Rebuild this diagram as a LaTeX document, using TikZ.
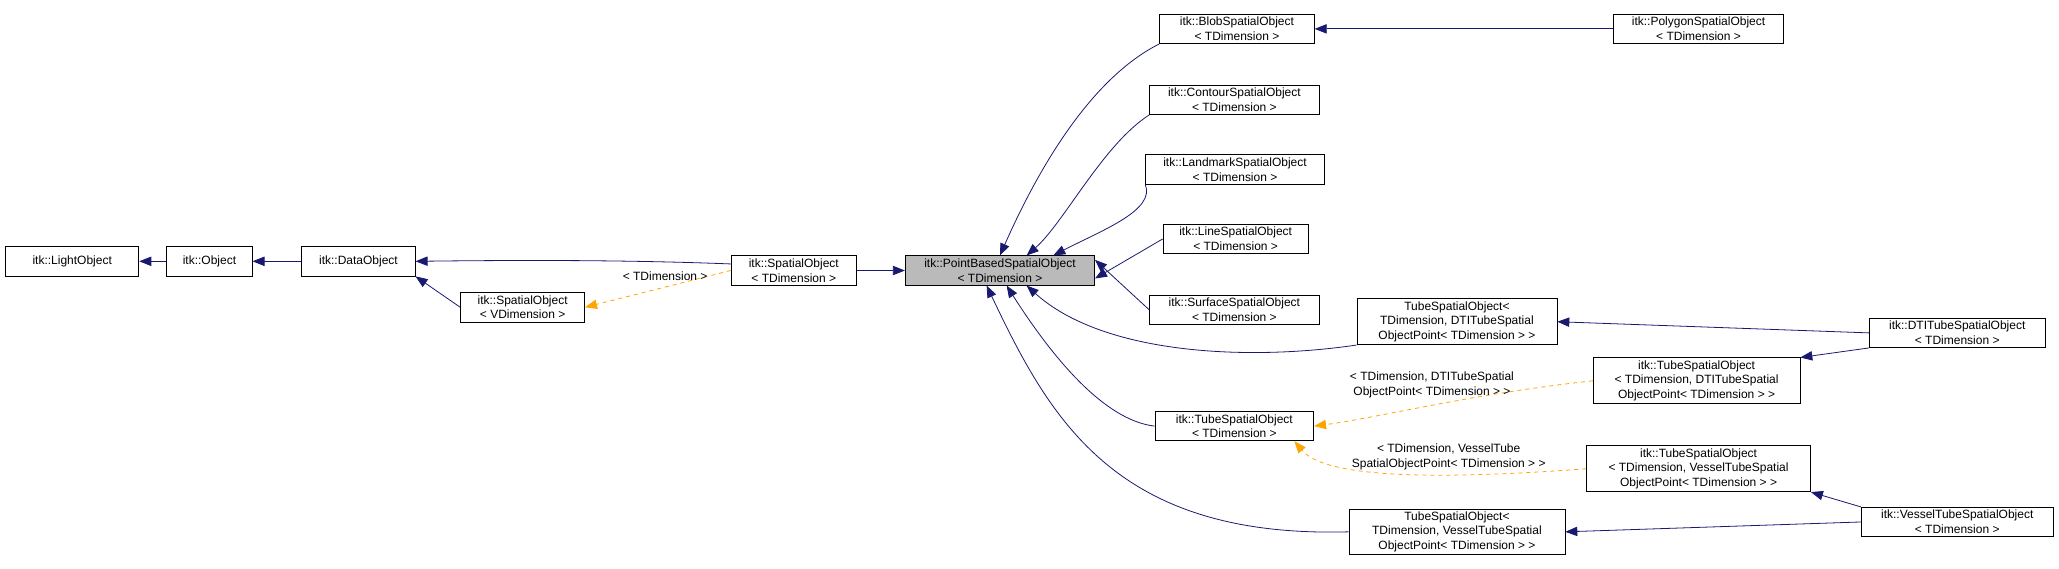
\documentclass[tikz,border=0pt]{standalone}
\usepackage{fontspec}
\setmainfont{Liberation Sans}
\usetikzlibrary{arrows.meta}
\definecolor{navy}{RGB}{25,25,112}
\definecolor{org}{RGB}{255,165,0}
\begin{document}
\begin{tikzpicture}[x=0.985pt,y=-0.985pt,
 box/.style={draw,line width=0.6pt,fill=white,font=\fontsize{9}{11}\selectfont,align=center,inner sep=2pt,minimum height=22pt},
 inh/.style={navy,line width=0.6pt,-{Triangle[length=9pt,width=7pt,fill=navy]}},
 tpl/.style={org,dashed,line width=0.6pt,-{Triangle[length=9pt,width=7pt,fill=org]}},
 lab/.style={font=\fontsize{9}{11}\selectfont,align=center,text=black}]
\useasboundingbox (0,0) rectangle (1568,433);
\node[box,minimum width=100pt] (lo) at (55,199) {itk::LightObject};
\node[box,minimum width=64pt] (ob) at (159.5,199) {itk::Object};
\node[box,minimum width=85pt] (do) at (273,199) {itk::DataObject};
\node[box,minimum width=93pt] (sv) at (398,234) {itk::SpatialObject\\< VDimension >};
\node[box,minimum width=94pt] (st) at (604.5,206) {itk::SpatialObject\\< TDimension >};
\node[box,minimum width=142pt,fill=black!27] (pb) at (761.5,206) {itk::PointBasedSpatialObject\\< TDimension >};
\node[box,minimum width=116pt] (bl) at (942,22) {itk::BlobSpatialObject\\< TDimension >};
\node[box,minimum width=127pt] (co) at (940,76) {itk::ContourSpatialObject\\< TDimension >};
\node[box,minimum width=134pt] (la) at (940.5,129) {itk::LandmarkSpatialObject\\< TDimension >};
\node[box,minimum width=109pt] (li) at (941,182) {itk::LineSpatialObject\\< TDimension >};
\node[box,minimum width=127pt] (su) at (940,236) {itk::SurfaceSpatialObject\\< TDimension >};
\node[box,minimum width=150pt] (td) at (1109.5,245) {TubeSpatialObject<\\ TDimension, DTITubeSpatial\\ObjectPoint< TDimension > >};
\node[box,minimum width=119pt] (tt) at (940,324.5) {itk::TubeSpatialObject\\< TDimension >};
\node[box,minimum width=162pt] (tv) at (1109.5,405) {TubeSpatialObject<\\ TDimension, VesselTubeSpatial\\ObjectPoint< TDimension > >};
\node[box,minimum width=128pt] (po) at (1293.5,22) {itk::PolygonSpatialObject\\< TDimension >};
\node[box,minimum width=155pt] (itd) at (1292,290) {itk::TubeSpatialObject\\< TDimension, DTITubeSpatial\\ObjectPoint< TDimension > >};
\node[box,minimum width=168pt] (itv) at (1293.5,357) {itk::TubeSpatialObject\\< TDimension, VesselTubeSpatial\\ObjectPoint< TDimension > >};
\node[box,minimum width=132pt] (dti) at (1490.5,253.5) {itk::DTITubeSpatialObject\\< TDimension >};
\node[box,minimum width=144pt] (ves) at (1490.5,397.5) {itk::VesselTubeSpatialObject\\< TDimension >};
\draw[inh] (ob) -- (lo);
\draw[inh] (do) -- (ob);
\draw[inh] (st.west|-0,201) .. controls (480,198) and (400,198) .. (do.east);
\draw[inh] (sv.west) -- (do.south east);
\draw[inh] (pb.west) ++(0,0) (st.east) -- (pb.west);
\draw[tpl] (st.west) -- node[lab,above,pos=0.45,yshift=1pt]{< TDimension >} (sv.east);
\draw[inh] (bl.south west) .. controls (830,60) and (790,130) .. (pb.north);
\draw[inh] (co.south west) .. controls (840,110) and (810,170) .. ([xshift=20pt]pb.north);
\draw[inh] (la.south west) .. controls (880,160) and (840,175) .. ([xshift=40pt]pb.north);
\draw[inh] (li.west) -- ([yshift=-6pt]pb.east);
\draw[inh] (su.west) -- ([yshift=8pt]pb.east);
\draw[inh] (td.south west) .. controls (950,275) and (840,270) .. ([xshift=20pt]pb.south);
\draw[inh] (tt.west) .. controls (840,320) and (800,270) .. ([xshift=5pt]pb.south);
\draw[inh] (tv.west) .. controls (850,410) and (800,320) .. ([xshift=-10pt]pb.south);
\draw[inh] (po.west) -- (bl.east);
\draw[inh] (dti.west) -- (td.east);
\draw[inh] (dti.south west) -- (itd.north east);
\draw[inh] (ves.north west) -- (itv.south east);
\draw[inh] (ves.west) -- (tv.east);
\draw[tpl] (itd.west) .. controls (1120,300) and (1050,318) .. node[lab,above,pos=0.5,yshift=2pt]{< TDimension, DTITubeSpatial\\ObjectPoint< TDimension > >} (tt.east);
\draw[tpl] (itv.west) .. controls (1100,365) and (1010,365) .. node[lab,above,pos=0.35,yshift=0pt]{< TDimension, VesselTube\\SpatialObjectPoint< TDimension > >} ([xshift=45pt]tt.south);
\end{tikzpicture}
\end{document}
